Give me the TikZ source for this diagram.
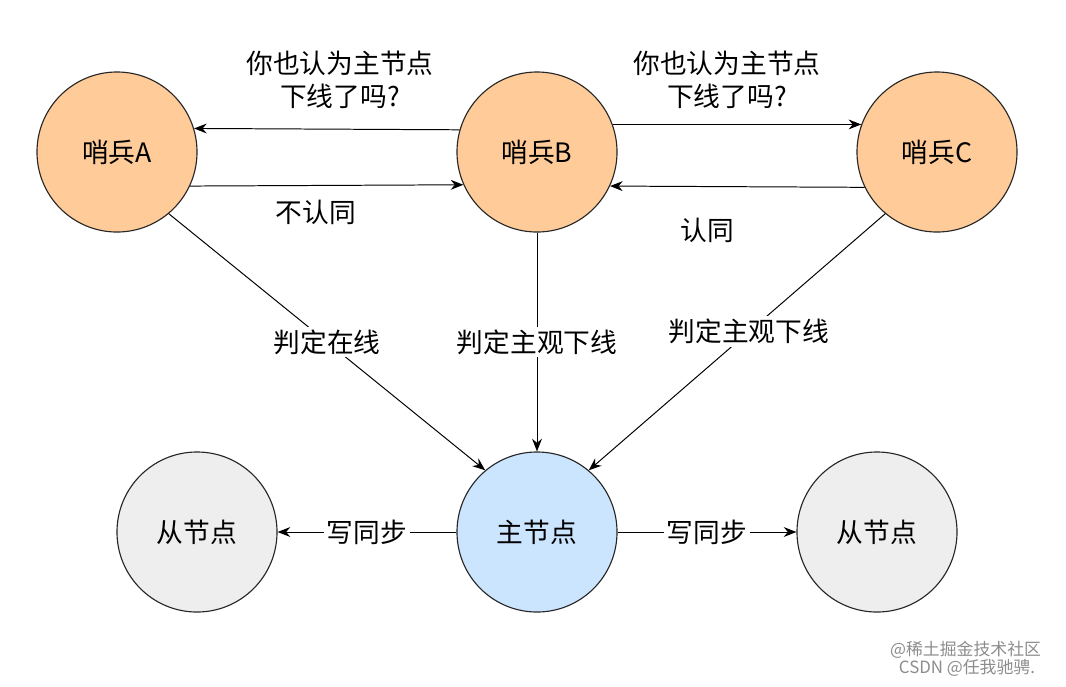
\documentclass[tikz,border=0pt]{standalone}
\usepackage{fontspec}
\setmainfont{Noto Sans CJK SC}
\usetikzlibrary{arrows.meta}
\begin{document}
\begin{tikzpicture}[x=0.025cm,y=-0.025cm,
  every node/.style={font=\fontsize{19}{23}\selectfont},
  st/.style={circle,draw=black!85,line width=0.8pt,minimum size=4cm,inner sep=0pt},
  sen/.style={st,fill={rgb,255:red,255;green,204;blue,153}},
  mst/.style={st,fill={rgb,255:red,204;green,229;blue,255}},
  slv/.style={st,fill={rgb,255:red,238;green,238;blue,238}},
  ar/.style={-{Stealth[length=9pt,width=7pt]},line width=0.7pt},
  lb/.style={fill=white,inner sep=2pt,align=center}]
\useasboundingbox (0,0) rectangle (1066,686);
\node[sen] (A) at (117,152) {哨兵A};
\node[sen] (B) at (537,152) {哨兵B};
\node[sen] (C) at (937,152) {哨兵C};
\node[mst] (M) at (537,532) {主节点};
\node[slv] (S1) at (197,532) {从节点};
\node[slv] (S2) at (877,532) {从节点};
\draw[ar] (B.164) -- (A.17);
\draw[ar] (A.335) -- (B.204);
\draw[ar] (B.20) -- (C.160);
\draw[ar] (C.206) -- (B.335);
\node[align=center] (q1) at (340,80) {你也认为主节点\\下线了吗?};
\node[align=center] (q2) at (727,80) {你也认为主节点\\下线了吗?};
\node (n1) at (316,212) {不认同};
\node (n2) at (707,230) {认同};
\draw[ar] (A.310) -- node[lb,pos=0.5] {判定在线} (M.130);
\draw[ar] (B) -- node[lb,pos=0.5] {判定主观下线} (M);
\draw[ar] (C.230) -- node[lb,pos=0.46] {判定主观下线} (M.50);
\draw[ar] (M) -- node[lb] {写同步} (S1);
\draw[ar] (M) -- node[lb] {写同步} (S2);
\node[text=black!45,font=\fontsize{12}{14}\selectfont,anchor=east] (w1) at (1046,650) {@稀土掘金技术社区};
\node[text=black!45,font=\fontsize{12}{14}\selectfont,anchor=east] (w2) at (1040,668) {CSDN @任我驰骋.};
\end{tikzpicture}
\end{document}
